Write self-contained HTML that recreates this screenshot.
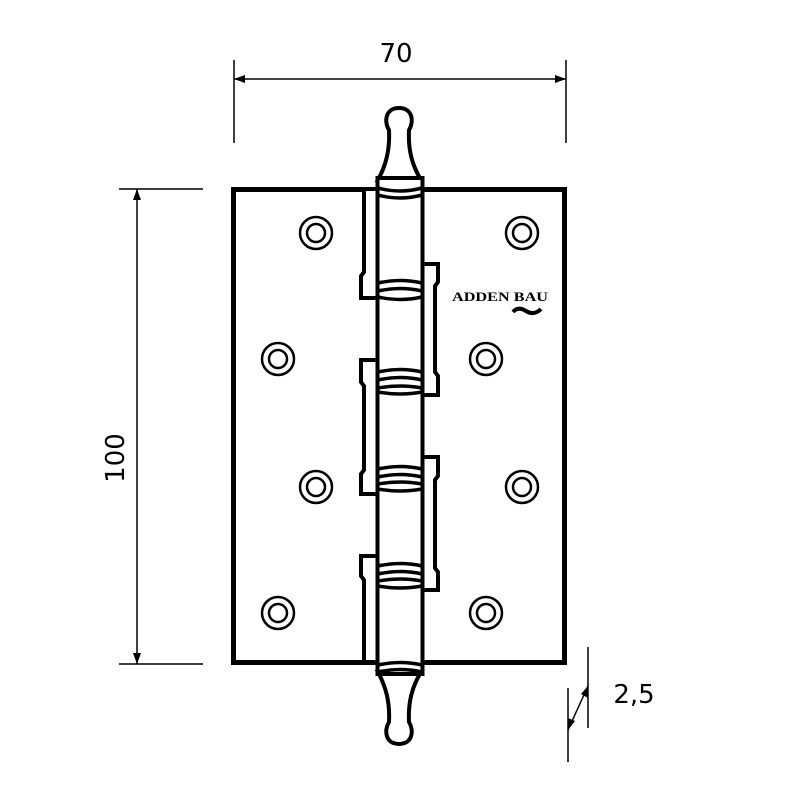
<!DOCTYPE html>
<html><head><meta charset="utf-8"><style>body{margin:0;background:#fff}svg{display:block}</style></head>
<body>
<svg width="800" height="800" viewBox="0 0 800 800" xmlns="http://www.w3.org/2000/svg" font-family="'DejaVu Sans','Liberation Sans',sans-serif">
<g stroke="#000" fill="none">
<!-- dimensions -->
<g stroke-width="1.5">
<line x1="234" y1="60" x2="234" y2="143"/>
<line x1="566" y1="60" x2="566" y2="143"/>
<line x1="234" y1="79" x2="566" y2="79"/>
<line x1="119" y1="189" x2="203" y2="189"/>
<line x1="119" y1="664" x2="203" y2="664"/>
<line x1="137" y1="189" x2="137" y2="664"/>
<line x1="588" y1="647" x2="588" y2="728"/>
<line x1="568" y1="688" x2="568" y2="762"/>
<line x1="588" y1="686" x2="568" y2="730"/>
</g>
<g fill="#000" stroke="none">
<polygon points="234,79 245,75 245,83"/>
<polygon points="566,79 555,75 555,83"/>
<polygon points="137,189 133,200 141,200"/>
<polygon points="137,664 133,653 141,653"/>
<polygon points="588,686 581,694 588,698"/>
<polygon points="568,730 568,718 575,721"/>
</g>
<!-- plate -->
<rect x="233.5" y="189.5" width="331" height="473" stroke-width="5"/>
<!-- left leaf tab lines -->
<g stroke-width="4" fill="#fff">
<path d="M376 189 L364 189 L364 272 L361 276 L361 298 L376 298"/>
<path d="M376 360 L361 360 L361 382 L364 386 L364 470 L361 474 L361 494 L376 494"/>
<path d="M376 556 L361 556 L361 576 L364 580 L364 662 L376 662"/>
<path d="M424 264 L438 264 L438 282 L435 286 L435 372 L438 376 L438 395 L424 395"/>
<path d="M424 457 L438 457 L438 476 L435 480 L435 568 L438 572 L438 590 L424 590"/>
<!-- finials -->
<path d="M378 180 C386 165 390 150 389 130 C384 122 385 108 399 108 C413 108 414 122 409 130 C408 150 412 165 421 180 Z"/>
<path d="M378 672 C386 687 390 702 389 722 C384 730 385 744 399 744 C413 744 414 730 409 722 C408 702 412 687 421 672 Z"/>
<!-- barrel -->
<rect x="377.5" y="178" width="45" height="496"/>
</g>
<g stroke-width="3.5">
<path d="M378 188 Q400 194 422 188"/>
<path d="M378 195 Q400 201 422 195"/>
<path d="M378 283 Q400 278 422 283"/>
<path d="M378 291 Q400 286 422 291"/>
<path d="M378 297 Q400 302 422 297"/>
<path d="M378 372 Q400 367 422 372"/>
<path d="M378 380 Q400 375 422 380"/>
<path d="M378 388 Q400 384 422 388"/>
<path d="M378 392 Q400 396 422 392"/>
<path d="M378 469 Q400 464 422 469"/>
<path d="M378 477 Q400 472 422 477"/>
<path d="M378 484 Q400 480 422 484"/>
<path d="M378 489 Q400 493 422 489"/>
<path d="M378 566 Q400 561 422 566"/>
<path d="M378 574 Q400 569 422 574"/>
<path d="M378 581 Q400 577 422 581"/>
<path d="M378 586 Q400 590 422 586"/>
<path d="M378 665 Q400 660 422 665"/>
<path d="M378 672 Q400 667 422 672"/>
</g>
<!-- screws -->
<g stroke-width="2.5">
<circle cx="316" cy="233" r="16"/><circle cx="316" cy="233" r="9"/>
<circle cx="522" cy="233" r="16"/><circle cx="522" cy="233" r="9"/>
<circle cx="278" cy="359" r="16"/><circle cx="278" cy="359" r="9"/>
<circle cx="486" cy="359" r="16"/><circle cx="486" cy="359" r="9"/>
<circle cx="316" cy="487" r="16"/><circle cx="316" cy="487" r="9"/>
<circle cx="522" cy="487" r="16"/><circle cx="522" cy="487" r="9"/>
<circle cx="278" cy="613" r="16"/><circle cx="278" cy="613" r="9"/>
<circle cx="486" cy="613" r="16"/><circle cx="486" cy="613" r="9"/>
</g>
<path d="M513 312 Q518 306 526 311 Q534 316 541 309" stroke-width="4"/>
</g>
<text x="452" y="301" font-family="'Liberation Serif',serif" font-weight="bold" font-size="13" fill="#000" textLength="96" lengthAdjust="spacingAndGlyphs">ADDEN BAU</text>
<text x="396" y="62" font-size="26" text-anchor="middle" fill="#000">70</text>
<text x="634" y="703" font-size="26" text-anchor="middle" fill="#000">2,5</text>
<text transform="translate(124,458) rotate(-90)" font-size="26" text-anchor="middle" fill="#000">100</text>
</svg>
</body></html>
